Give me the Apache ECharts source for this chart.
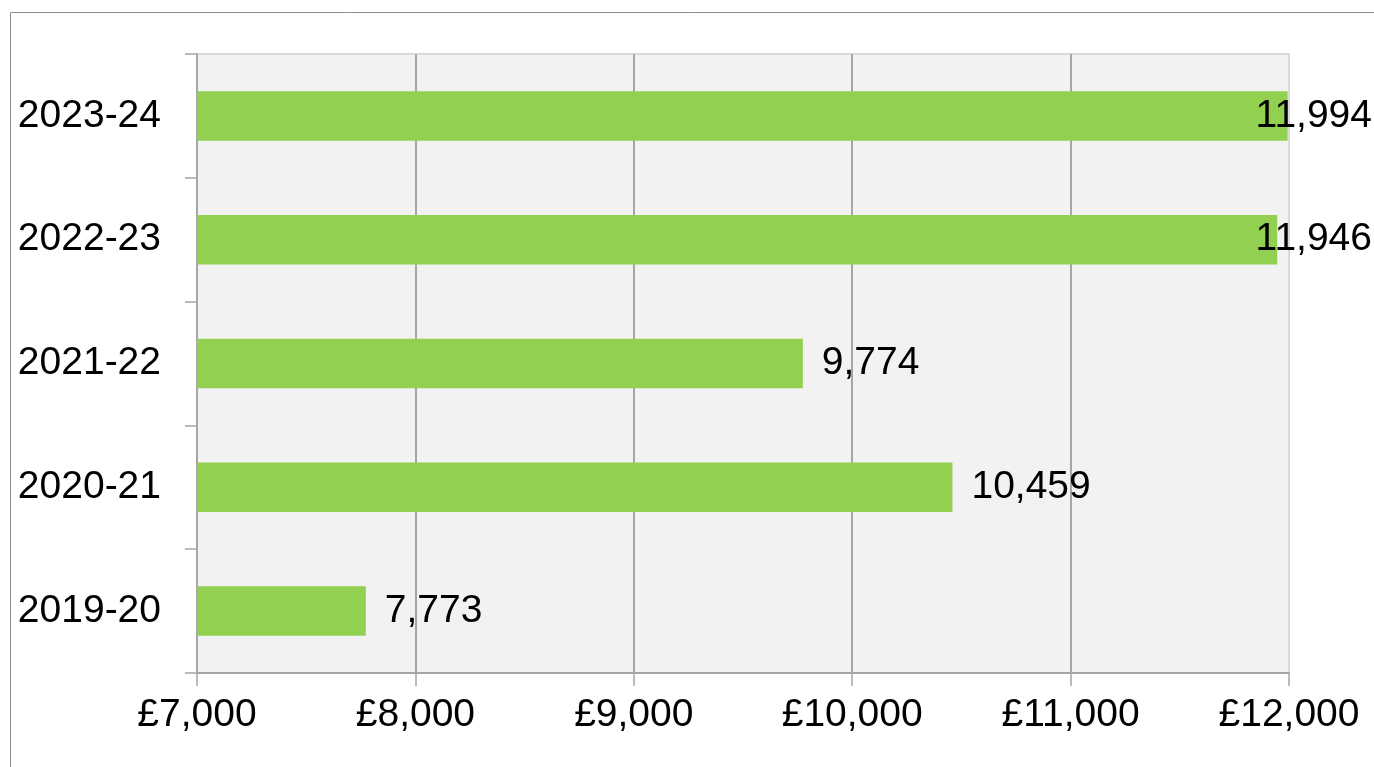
<!DOCTYPE html>
<html>
<head>
<meta charset="utf-8">
<script src="https://cdn.jsdelivr.net/npm/echarts@6/dist/echarts.min.js"></script>
<style>
  html, body { margin: 0; padding: 0; background: #fff; }
  #main { width: 1374px; height: 767px; }
</style>
</head>
<body>
<div id="main"></div>
<script>
const years = ['2019-20', '2020-21', '2021-22', '2022-23', '2023-24'];
const amounts = [7773, 10459, 9774, 11946, 11994];
const xTicks = [7000, 8000, 9000, 10000, 11000, 12000];

const font = 'Liberation Sans, Arial, sans-serif';
const chart = echarts.init(document.getElementById('main'));

chart.setOption({
  animation: false,
  graphic: [
    {
      type: 'rect',
      silent: true,
      z: -10,
      shape: { x: 10.5, y: 12.5, width: 2000, height: 2000 },
      style: { fill: 'none', stroke: '#8c8c8c', lineWidth: 1 }
    }
  ],
  grid: {
    left: 197,
    right: 85,
    top: 54,
    bottom: 94,
    show: true,
    backgroundColor: '#f2f2f2',
    borderColor: '#d9d9d9',
    borderWidth: 2
  },
  xAxis: {
    type: 'value',
    min: xTicks[0],
    max: xTicks[xTicks.length - 1],
    interval: 1000,
    axisLine: { show: true, lineStyle: { color: '#a6a6a6', width: 2 } },
    axisTick: { show: true, length: 13, lineStyle: { color: '#a6a6a6', width: 1.5 } },
    splitLine: {
      show: true,
      lineStyle: {
        color: ['#a6a6a6', '#a6a6a6', '#a6a6a6', '#a6a6a6', '#a6a6a6', '#d9d9d9'],
        width: 2
      }
    },
    axisLabel: {
      margin: 23,
      color: '#000',
      fontSize: 39,
      fontFamily: font,
      formatter: v => '£' + v.toLocaleString('en-GB')
    }
  },
  yAxis: {
    type: 'category',
    data: years,
    axisLine: { show: true, lineStyle: { color: '#a6a6a6', width: 2 } },
    axisTick: { show: true, length: 12, lineStyle: { color: '#a6a6a6', width: 1.5 } },
    axisLabel: {
      margin: 36,
      color: '#000',
      fontSize: 39,
      fontFamily: font
    }
  },
  series: [
    {
      type: 'bar',
      data: amounts,
      barWidth: '40%',
      itemStyle: { color: '#92d050' },
      label: {
        show: true,
        position: 'right',
        distance: 19,
        color: '#000',
        fontSize: 39,
        fontFamily: font,
        formatter: p => p.value.toLocaleString('en-GB')
      }
    }
  ],
  // Excel pulls labels that would spill past the chart edge back inside
  labelLayout: function (params) {
    const r = params.labelRect;
    const limit = chart.getWidth() - 2;
    if (r.x + r.width > limit) {
      return { x: limit - r.width, y: r.y, align: 'left', verticalAlign: 'top' };
    }
  }
});
</script>
</body>
</html>
